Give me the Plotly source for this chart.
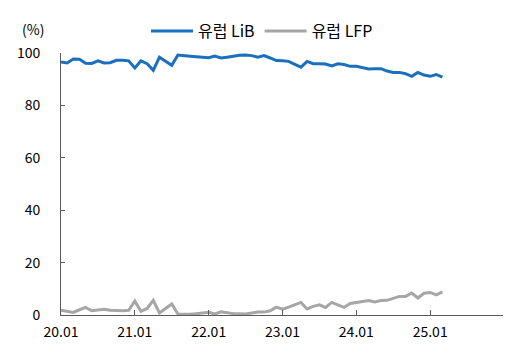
import plotly.graph_objects as go

# Monthly observations, 2020.01 .. 2025.03
months = [f"{y % 100:02d}.{m:02d}" for y in range(2020, 2026) for m in range(1, 13)][:63]

lib_eu = [96.6, 96.2, 97.7, 97.6, 96.1, 96.0, 97.0, 96.2, 96.3, 97.2,
          97.2, 97.0, 94.3, 97.0, 95.9, 93.4, 98.4, 97.0, 95.3, 99.2,
          99.1, 98.8, 98.6, 98.4, 98.2, 98.8, 98.1, 98.4, 98.8, 99.1,
          99.2, 99.0, 98.4, 99.0, 98.1, 97.1, 97.0, 96.8, 95.7, 94.6,
          96.8, 95.9, 95.9, 95.8, 95.1, 95.9, 95.6, 94.9, 94.9, 94.3,
          93.9, 94.0, 94.0, 93.1, 92.6, 92.6, 92.1, 91.1, 92.6, 91.6,
          91.1, 91.8, 90.8]

lfp_eu = [1.8, 1.4, 1.0, 2.0, 2.9, 1.6, 2.0, 2.2, 1.8, 1.6,
          1.6, 1.8, 5.3, 1.4, 2.5, 5.6, 0.8, 2.5, 4.2, 0.4,
          0.3, 0.3, 0.5, 0.8, 1.0, 0.4, 1.2, 0.9, 0.5, 0.5,
          0.4, 0.8, 1.1, 1.1, 1.6, 3.0, 2.2, 3.0, 3.8, 4.8,
          2.3, 3.3, 3.9, 2.9, 4.8, 3.7, 2.9, 4.4, 4.8, 5.2,
          5.5, 5.0, 5.5, 5.6, 6.5, 7.1, 7.1, 8.4, 6.5, 8.3,
          8.6, 7.7, 8.8]

tick_labels = ["20.01", "21.01", "22.01", "23.01", "24.01", "25.01", ""]
tick_pos = [0, 12, 24, 36, 48, 60, 72]

x = list(range(len(months)))

FONT = "Noto Sans CJK KR, Noto Sans, sans-serif"

# the page body adds an 8px offset; size the figure so it fits the window
W, H = 503, 349

fig = go.Figure()
fig.add_trace(go.Scatter(x=x, y=lib_eu, mode="lines", name="유럽 LiB",
                         line=dict(color="#1a6fbe", width=3), cliponaxis=False,
                         customdata=months))
fig.add_trace(go.Scatter(x=x, y=lfp_eu, mode="lines", name="유럽 LFP",
                         line=dict(color="#a6a6a6", width=3), cliponaxis=False,
                         customdata=months))

fig.update_layout(
    width=W, height=H,
    margin=dict(l=53, r=7, t=45, b=42, autoexpand=False),
    paper_bgcolor="white", plot_bgcolor="white",
    font=dict(family=FONT, size=14, color="#000000"),
    showlegend=True,
    legend=dict(orientation="h", x=254 / W, xref="container", xanchor="center",
                y=1 - 23 / H, yref="container", yanchor="middle",
                font=dict(size=16), itemwidth=42, tracegroupgap=0,
                bgcolor="rgba(0,0,0,0)"),
    xaxis=dict(range=[0, 72], tickmode="array", tickvals=tick_pos, ticktext=tick_labels,
               showline=True, linecolor="#595959", linewidth=1,
               ticks="inside", ticklen=5, tickcolor="#595959",
               showgrid=False, zeroline=False, tickfont=dict(size=14),
               ticklabelstandoff=4),
    yaxis=dict(range=[0, 100], tickmode="array", tickvals=[0, 20, 40, 60, 80, 100],
               showline=True, linecolor="#595959", linewidth=1,
               ticks="inside", ticklen=4, tickcolor="#595959",
               showgrid=False, zeroline=False, tickfont=dict(size=14),
               ticklabelstandoff=17),
    annotations=[dict(text="(%)", xref="paper", yref="paper", x=-28 / 443, y=1 + 24 / 262,
                      xanchor="center", yanchor="middle", showarrow=False,
                      font=dict(size=14))],
)

fig.write_html("out.html")
